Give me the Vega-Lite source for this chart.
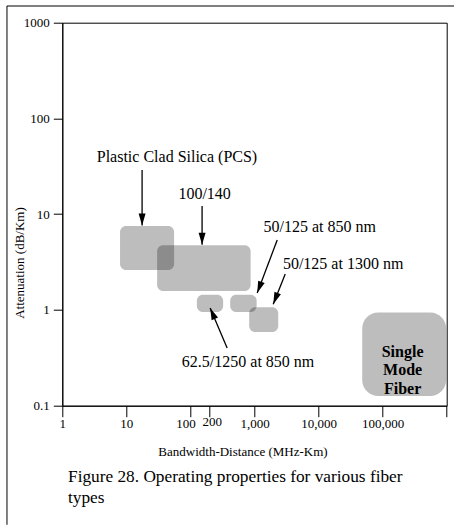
{
  "$schema": "https://vega.github.io/schema/vega-lite/v6.json",
  "width": 384.4,
  "height": 383,
  "autosize": {"type": "none"},
  "padding": {"left": 62.3, "top": 22.7, "right": 7.3, "bottom": 119.3},
  "background": "white",
  "config": {
    "view": {"stroke": "black", "strokeWidth": 1},
    "font": "Liberation Serif",
    "axis": {
      "grid": false,
      "domainColor": "black",
      "tickColor": "black",
      "labelColor": "black",
      "titleColor": "black",
      "labelFont": "Liberation Serif",
      "titleFont": "Liberation Serif",
      "labelFontSize": 13,
      "titleFontSize": 13,
      "titleFontWeight": "normal",
      "labelFlush": false,
      "labelOverlap": false,
      "domainWidth": 1,
      "tickWidth": 1
    }
  },
  "datasets": {
    "blobs": [
      {"name": "PCS", "x1": 7.96, "x2": 55.6, "y1": 7.53, "y2": 2.61},
      {"name": "100/140", "x1": 30.2, "x2": 870, "y1": 4.75, "y2": 1.58},
      {"name": "62.5/125", "x1": 126, "x2": 324, "y1": 1.44, "y2": 0.952},
      {"name": "50/125 850", "x1": 417, "x2": 1080, "y1": 1.44, "y2": 0.952},
      {"name": "50/125 1300", "x1": 826, "x2": 2345, "y1": 1.07, "y2": 0.589}
    ],
    "sm": [
      {"name": "Single Mode Fiber", "x1": 48000, "x2": 980000, "y1": 0.94, "y2": 0.126}
    ],
    "arrows": [
      {"name": "PCS", "x1": 17.6, "y1": 28.9, "x2": 17.6, "y2": 7.6},
      {"name": "100/140", "x1": 152, "y1": 12.2, "x2": 152, "y2": 4.8},
      {"name": "50/125 850", "x1": 2263, "y1": 5.38, "x2": 1102, "y2": 1.5},
      {"name": "50/125 1300", "x1": 3017, "y1": 2.37, "x2": 1960, "y2": 1.15},
      {"name": "62.5/125", "x1": 374, "y1": 0.4, "x2": 203, "y2": 1.05}
    ],
    "labels": [
      {"label": "Plastic Clad Silica (PCS)", "x": 3.45, "y": 39.9},
      {"label": "100/140", "x": 64.9, "y": 16.1},
      {"label": "50/125 at 850 nm", "x": 1382, "y": 7.4},
      {"label": "50/125 at 1300 nm", "x": 2778, "y": 3.0},
      {"label": "62.5/1250 at 850 nm", "x": 73.4, "y": 0.284}
    ],
    "smlabel": [
      {"label": "Single\nMode\nFiber", "x": 205000, "y": 0.364}
    ],
    "caption": [
      {"label": "Figure 28. Operating properties for various fiber\ntypes", "x": 1.228, "y": 0.01596}
    ]
  },
  "layer": [
    {
      "data": {"name": "blobs"},
      "mark": {"type": "rect", "cornerRadius": 6, "fill": "black", "fillOpacity": 0.26},
      "encoding": {
        "x": {
          "field": "x1", "type": "quantitative",
          "scale": {"type": "log", "domain": [1, 1000000], "nice": false},
          "axis": {
            "title": "Bandwidth-Distance (MHz-Km)",
            "values": [1, 10, 100, 200, 1000, 10000, 100000, 1000000],
            "labelExpr": "datum.value >= 1000000 ? '' : format(datum.value, ',')",
            "tickSize": 11,
            "labelPadding": {"condition": {"test": "datum.value == 200", "value": -1}, "value": 1},
            "labelOffset": {"condition": [{"test": "datum.value == 100", "value": -5}, {"test": "datum.value == 200", "value": 2}], "value": 0},
            "titleX": 180.2,
            "titleY": 50,
            "titleBaseline": "alphabetic",
            "titleAlign": "center"
          }
        },
        "x2": {"field": "x2"},
        "y": {
          "field": "y1", "type": "quantitative",
          "scale": {"type": "log", "domain": [0.1, 1000], "nice": false},
          "axis": {
            "title": "Attenuation (dB/Km)",
            "values": [0.1, 1, 10, 100, 1000],
            "labelExpr": "'' + datum.value",
            "tickSize": 9,
            "labelPadding": 4,
            "titleX": -38.8,
            "titleY": 239.8,
            "titleAngle": -90,
            "titleBaseline": "alphabetic",
            "titleAlign": "center"
          }
        },
        "y2": {"field": "y2"}
      }
    },
    {
      "data": {"name": "sm"},
      "mark": {"type": "rect", "cornerRadius": 16, "fill": "black", "fillOpacity": 0.26},
      "encoding": {
        "x": {"field": "x1", "type": "quantitative"},
        "x2": {"field": "x2"},
        "y": {"field": "y1", "type": "quantitative"},
        "y2": {"field": "y2"}
      }
    },
    {
      "data": {"name": "arrows"},
      "mark": {"type": "rule", "color": "black", "strokeWidth": 1.3},
      "encoding": {
        "x": {"field": "x1", "type": "quantitative"},
        "y": {"field": "y1", "type": "quantitative"},
        "x2": {"field": "x2"},
        "y2": {"field": "y2"}
      }
    },
    {
      "data": {"name": "arrows"},
      "transform": [{"filter": "datum.name == 'PCS' || datum.name == '100/140'"}],
      "mark": {"type": "point", "shape": "M0,0L-0.29,-1L0.29,-1Z", "filled": true, "color": "black", "opacity": 1, "size": 576, "angle": 0, "strokeWidth": 0},
      "encoding": {
        "x": {"field": "x2", "type": "quantitative"},
        "y": {"field": "y2", "type": "quantitative"}
      }
    },
    {
      "data": {"name": "arrows"},
      "transform": [{"filter": "datum.name == '50/125 850'"}],
      "mark": {"type": "point", "shape": "M0,0L-0.29,-1L0.29,-1Z", "filled": true, "color": "black", "opacity": 1, "size": 576, "angle": 20.7, "strokeWidth": 0},
      "encoding": {
        "x": {"field": "x2", "type": "quantitative"},
        "y": {"field": "y2", "type": "quantitative"}
      }
    },
    {
      "data": {"name": "arrows"},
      "transform": [{"filter": "datum.name == '50/125 1300'"}],
      "mark": {"type": "point", "shape": "M0,0L-0.29,-1L0.29,-1Z", "filled": true, "color": "black", "opacity": 1, "size": 576, "angle": 21.8, "strokeWidth": 0},
      "encoding": {
        "x": {"field": "x2", "type": "quantitative"},
        "y": {"field": "y2", "type": "quantitative"}
      }
    },
    {
      "data": {"name": "arrows"},
      "transform": [{"filter": "datum.name == '62.5/125'"}],
      "mark": {"type": "point", "shape": "M0,0L-0.29,-1L0.29,-1Z", "filled": true, "color": "black", "opacity": 1, "size": 576, "angle": 157, "strokeWidth": 0},
      "encoding": {
        "x": {"field": "x2", "type": "quantitative"},
        "y": {"field": "y2", "type": "quantitative"}
      }
    },
    {
      "data": {"name": "labels"},
      "mark": {"type": "text", "align": "left", "baseline": "middle", "font": "Liberation Serif", "fontSize": 16, "color": "black"},
      "encoding": {
        "x": {"field": "x", "type": "quantitative"},
        "y": {"field": "y", "type": "quantitative"},
        "text": {"field": "label"}
      }
    },
    {
      "data": {"name": "smlabel"},
      "mark": {"type": "text", "align": "center", "baseline": "middle", "font": "Liberation Serif", "fontSize": 16, "fontWeight": "bold", "lineBreak": "\n", "lineHeight": 18.3, "color": "black"},
      "encoding": {
        "x": {"field": "x", "type": "quantitative"},
        "y": {"field": "y", "type": "quantitative"},
        "text": {"field": "label"}
      }
    },
    {
      "data": {"name": "caption"},
      "mark": {"type": "text", "align": "left", "baseline": "alphabetic", "font": "Liberation Serif", "fontSize": 17.3, "lineBreak": "\n", "lineHeight": 21, "color": "black"},
      "encoding": {
        "x": {"field": "x", "type": "quantitative"},
        "y": {"field": "y", "type": "quantitative"},
        "text": {"field": "label"}
      }
    },
    {
      "data": {"values": [{}]},
      "mark": {"type": "rule", "color": "#555555", "strokeWidth": 1.5},
      "encoding": {
        "x": {"datum": 0.1368, "type": "quantitative"},
        "y": {"datum": 1494, "type": "quantitative"},
        "y2": {"datum": 0.0057}
      }
    },
    {
      "data": {"values": [{}]},
      "mark": {"type": "rule", "color": "black", "strokeWidth": 1},
      "encoding": {
        "x": {"datum": 0.1368, "type": "quantitative"},
        "x2": {"datum": 2000000},
        "y": {"datum": 1494, "type": "quantitative"}
      }
    }
  ]
}
